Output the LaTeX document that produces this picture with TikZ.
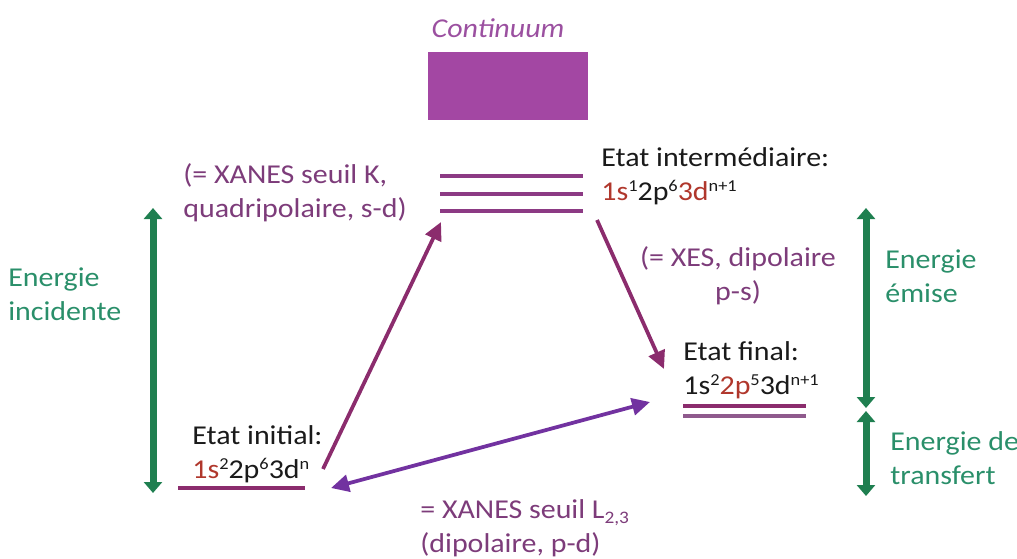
\documentclass[tikz,border=0pt]{standalone}
\usepackage{fontspec}
\setmainfont{Carlito}[FakeStretch=1.1]
\usepackage{xcolor}
\usepackage{tikz}
\usetikzlibrary{arrows.meta,positioning}
\definecolor{levelPurple}{HTML}{8C3A84}
\definecolor{levelMaroon}{HTML}{8B2C6D}
\definecolor{levelLight}{HTML}{8F5A8D}
\definecolor{contFill}{HTML}{A347A3}
\definecolor{contText}{HTML}{9B50A0}
\definecolor{notePurple}{HTML}{7D3C7A}
\definecolor{crossViolet}{HTML}{7232A0}
\definecolor{energyGreen}{HTML}{1F7F50}
\definecolor{energyText}{HTML}{2A8F6A}
\definecolor{orbitalRed}{HTML}{B0372C}
\definecolor{stateText}{HTML}{1A1A1A}
\newcommand{\orb}[1]{\textcolor{orbitalRed}{#1}}
\newcommand{\occ}[1]{\raisebox{0.72ex}{\fontsize{9.5}{10}\selectfont #1}}
\newcommand{\edge}[1]{\raisebox{-0.45ex}{\fontsize{10}{10}\selectfont #1}}
\tikzset{
  level/.style={line width=0.08cm, draw=levelPurple},
  statelabel/.style={align=left, inner sep=0pt, anchor=west, text=stateText},
  notelabel/.style={inner sep=0pt, text=notePurple},
  energylabel/.style={align=left, inner sep=0pt, anchor=west, text=energyText},
  transarrow/.style={-{Triangle[length=0.36cm, width=0.34cm]}, line width=0.075cm, draw=levelMaroon},
  energyarrow/.style={{Triangle[length=0.22cm, width=0.36cm]}-{Triangle[length=0.22cm, width=0.36cm]}, line width=0.14cm, draw=energyGreen}
}

\begin{document}
\begin{tikzpicture}[x=0.02cm, y=-0.02cm, font=\fontsize{15.5}{19.5}\selectfont]
  \useasboundingbox (0,0) rectangle (1017,558);
  % continuum
  \node[inner sep=0pt, text=contText, font=\fontsize{15.5}{19.5}\selectfont\itshape] (contLabel) at (498,28) {Continuum};
  \fill[contFill] (428,52) rectangle (588,120);
  % energy levels
  \foreach \ly in {176,194,211}
    \draw[level] (440,\ly) -- (583,\ly);
  \draw[level, draw=levelMaroon] (178,488) -- (305,488);
  \draw[level, draw=levelMaroon, line width=0.07cm] (683,406) -- (806,406);
  \draw[level, draw=levelLight, line width=0.07cm] (683,416) -- (806,416);
  % state labels
  \node[statelabel] (initial) at (192,454) {Etat initial:\\\orb{1s}\occ{2}2p\occ{6}3d\occ{n}};
  \node[statelabel] (inter) at (601,176) {Etat intermédiaire:\\\orb{1s}\occ{1}2p\occ{6}\orb{3d}\occ{n+1}};
  \node[statelabel] (final) at (683,370) {Etat final:\\1s\occ{2}\orb{2p}\occ{5}3d\occ{n+1}};
  % transition notes
  \node[notelabel, align=left, anchor=west] (noteK) at (183,193) {(= XANES seuil K,\\quadripolaire, s-d)};
  \node[notelabel, align=center] (noteXES) at (738,276) {(= XES, dipolaire\\p-s)};
  \node[notelabel, align=left, anchor=west] (noteL) at (420,528) {= XANES seuil L\edge{2,3}\\(dipolaire, p-d)};
  % energy labels
  \node[energylabel] (eInc) at (8,294) {Energie\\incidente};
  \node[energylabel] (eEmi) at (885,276) {Energie\\émise};
  \node[energylabel] (eTra) at (890,458) {Energie de\\transfert};
  % transitions
  \coordinate (upStart) at (323,469);
  \coordinate (upEnd) at (441,222);
  \coordinate (downStart) at (597,220);
  \coordinate (downEnd) at (664,369);
  \coordinate (crossLeft) at (331,488);
  \coordinate (crossRight) at (650,402);
  \draw[transarrow] (upStart) -- (upEnd);
  \draw[transarrow] (downStart) -- (downEnd);
  \draw[transarrow, {Triangle[length=0.36cm, width=0.34cm]}-{Triangle[length=0.36cm, width=0.34cm]}, draw=crossViolet] (crossLeft) -- (crossRight);
  % energy arrows
  \coordinate (incTop) at (153,208);
  \coordinate (incBot) at (153,493);
  \coordinate (emiTop) at (866,208);
  \coordinate (emiBot) at (866,408);
  \coordinate (traTop) at (866,411);
  \coordinate (traBot) at (866,496);
  \draw[energyarrow] (incTop) -- (incBot);
  \draw[energyarrow] (emiTop) -- (emiBot);
  \draw[energyarrow] (traTop) -- (traBot);
\end{tikzpicture}
\end{document}
